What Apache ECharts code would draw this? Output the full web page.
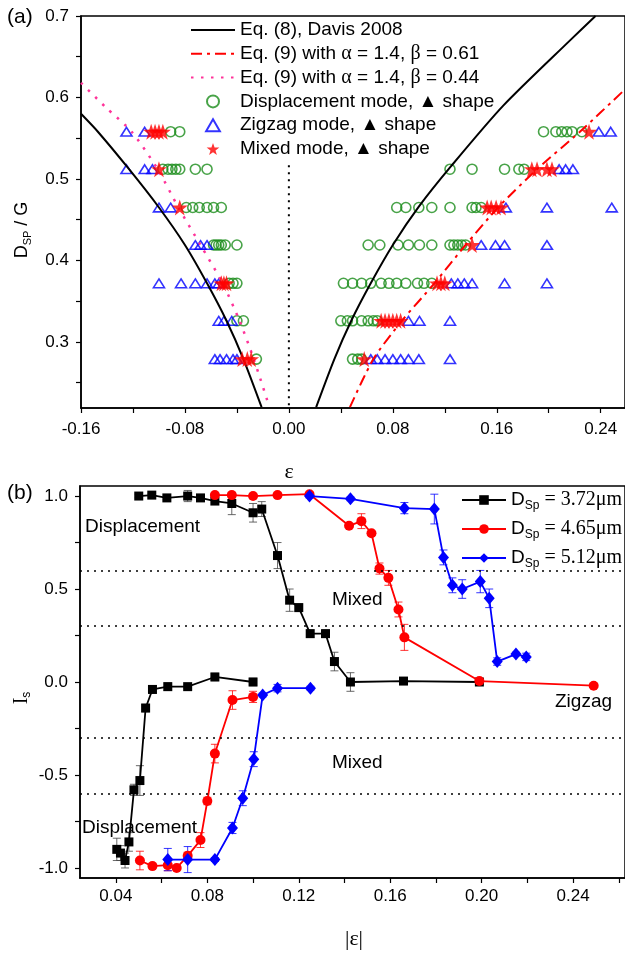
<!DOCTYPE html>
<html>
<head>
<meta charset="utf-8">
<script src="https://cdn.jsdelivr.net/npm/echarts@6/dist/echarts.min.js"></script>
<style>
  html, body { margin: 0; padding: 0; background: #fff; }
  #chart { width: 625px; height: 954px; }
</style>
</head>
<body>
<div id="chart"></div>
<script>
const SANS = 'Liberation Sans, Arial, sans-serif';
const SERIF = 'Liberation Serif, Times New Roman, serif';

// ---- panel (a): D_SP / G levels and strain of each observed run ----
const levelsD = [0.558, 0.512, 0.465, 0.419, 0.372, 0.326, 0.279];
const dispEps = [
  [-0.091, -0.084, 0.196, 0.2055, 0.210, 0.214, 0.218, 0.2255],
  [-0.097, -0.093, -0.090, -0.087, -0.084, -0.072, -0.063, 0.124, 0.141, 0.166, 0.177, 0.181],
  [-0.079, -0.074, -0.069, -0.063, -0.058, -0.052, 0.083, 0.090, 0.100, 0.110, 0.124, 0.141, 0.144, 0.148],
  [-0.058, -0.056, -0.054, -0.052, -0.049, -0.040, 0.061, 0.070, 0.084, 0.092, 0.1005, 0.110, 0.124, 0.127, 0.130, 0.133, 0.136],
  [-0.046, -0.043, -0.040, 0.042, 0.049, 0.056, 0.063, 0.071, 0.077, 0.083, 0.090, 0.099, 0.104, 0.110],
  [-0.040, -0.035, 0.040, 0.045, 0.049, 0.056, 0.061, 0.065, 0.068],
  [-0.025, 0.049, 0.053, 0.056]
];
const zigEps = [
  [-0.125, -0.111, 0.2385, 0.2477],
  [-0.125, -0.111, -0.105, 0.208, 0.213, 0.2186],
  [-0.100, -0.091, 0.167, 0.1986, 0.2485],
  [-0.072, -0.068, -0.063, 0.148, 0.159, 0.166, 0.1986],
  [-0.100, -0.083, -0.072, -0.063, -0.057, -0.054, 0.125, 0.130, 0.135, 0.141, 0.166, 0.1986],
  [-0.054, -0.050, -0.044, 0.092, 0.1005, 0.124],
  [-0.057, -0.053, -0.048, -0.043, -0.040, 0.063, 0.068, 0.074, 0.080, 0.086, 0.092, 0.100, 0.124]
];
const mixedEps = [
  [-0.106, -0.103, -0.100, -0.097, 0.231],
  [-0.100, 0.187, 0.191, 0.1986, 0.2025],
  [-0.084, 0.1526, 0.1557, 0.1595, 0.1633],
  [0.141],
  [-0.052, -0.050, -0.048, 0.114, 0.117, 0.120],
  [0.071, 0.074, 0.077, 0.080, 0.083, 0.086],
  [-0.036, -0.032, -0.029, 0.058]
];

// curves
const davisLeftEps = [-0.16, -0.147, -0.123, -0.100, -0.080, -0.063, -0.048, -0.035, -0.021];
const davisLeftD = [0.58, 0.558, 0.512, 0.465, 0.419, 0.372, 0.326, 0.279, 0.22];
const davisRightEps = [0.021, 0.035, 0.048, 0.063, 0.080, 0.100, 0.125, 0.165, 0.217, 0.236];
const davisRightD = [0.22, 0.279, 0.326, 0.372, 0.419, 0.466, 0.516, 0.590, 0.671, 0.70];
const eq9aEps = [0.047, 0.065, 0.087, 0.112, 0.136, 0.161, 0.191, 0.224, 0.2587];
const eq9aD = [0.22, 0.279, 0.326, 0.372, 0.419, 0.465, 0.512, 0.558, 0.61];
const eq9bEps = [-0.16, -0.141, -0.121, -0.101, -0.085, -0.068, -0.051, -0.038, -0.027, -0.015];
const eq9bD = [0.618, 0.588, 0.558, 0.512, 0.465, 0.419, 0.372, 0.326, 0.279, 0.22];
const zeroLineEps = [0, 0];
const zeroLineD = [0.517, 0.219];

const topXTicks = [-0.16, -0.12, -0.08, -0.04, 0, 0.04, 0.08, 0.12, 0.16, 0.20, 0.24];
const topXLabels = [-0.16, -0.08, 0, 0.08, 0.16, 0.24];
const topYTicks = [0.25, 0.3, 0.35, 0.4, 0.45, 0.5, 0.55, 0.6, 0.65, 0.7];
const topYLabels = [0.3, 0.4, 0.5, 0.6, 0.7];

// ---- panel (b): order parameter I_s vs |strain| ----
const dspLabels = ['3.72', '4.65', '5.12'];

const blackUpX = [0.050, 0.0557, 0.0623, 0.0714, 0.077, 0.0833, 0.0907, 0.100, 0.1038, 0.1107, 0.116, 0.120, 0.125, 0.1317, 0.1356, 0.1426, 0.1658, 0.199];
const blackUpY = [1.00, 1.005, 0.99, 1.00, 0.99, 0.973, 0.96, 0.91, 0.93, 0.68, 0.44, 0.40, 0.26, 0.26, 0.11, 0.00, 0.005, 0.00];
const blackUpErr = [0.01, 0.01, 0.01, 0.03, 0.01, 0.01, 0.06, 0.05, 0.04, 0.07, 0.06, 0.02, 0.02, 0.02, 0.05, 0.05, 0.01, 0.01];
const blackLowX = [0.0404, 0.042, 0.044, 0.0457, 0.0479, 0.0505, 0.053, 0.056, 0.0627, 0.0714, 0.0833, 0.100];
const blackLowY = [-0.90, -0.92, -0.96, -0.86, -0.58, -0.53, -0.14, -0.04, -0.025, -0.025, 0.027, 0.00];
const blackLowErr = [0.06, 0.04, 0.04, 0.05, 0.03, 0.08, 0.02, 0.02, 0.02, 0.01, 0.02, 0.02];

const redUpX = [0.0833, 0.0907, 0.100, 0.1107, 0.1247, 0.142, 0.1474, 0.1518, 0.1553, 0.1592, 0.1636, 0.1662, 0.199, 0.249];
const redUpY = [1.005, 1.005, 1.00, 1.005, 1.01, 0.84, 0.865, 0.80, 0.61, 0.56, 0.39, 0.24, 0.005, -0.02];
const redUpErr = [0.01, 0.01, 0.01, 0.01, 0.01, 0.01, 0.04, 0.01, 0.03, 0.04, 0.04, 0.07, 0.01, 0.01];
const redLowX = [0.0505, 0.056, 0.0627, 0.0666, 0.0714, 0.077, 0.080, 0.0833, 0.091, 0.100];
const redLowY = [-0.96, -0.99, -0.985, -1.0, -0.935, -0.85, -0.64, -0.385, -0.097, -0.08];
const redLowErr = [0.05, 0.01, 0.03, 0.01, 0.02, 0.04, 0.02, 0.05, 0.05, 0.03];

const blueUpX = [0.1247, 0.1426, 0.1662, 0.1793, 0.1833, 0.1872, 0.1915, 0.1994, 0.2033, 0.2068, 0.215, 0.2195];
const blueUpY = [1.00, 0.985, 0.935, 0.93, 0.67, 0.52, 0.50, 0.54, 0.45, 0.11, 0.15, 0.135];
const blueUpErr = [0.01, 0.01, 0.03, 0.08, 0.04, 0.04, 0.05, 0.06, 0.05, 0.02, 0.01, 0.02];
const blueLowX = [0.0627, 0.0714, 0.0833, 0.091, 0.0955, 0.1003, 0.1042, 0.1107, 0.1251];
const blueLowY = [-0.955, -0.955, -0.955, -0.785, -0.625, -0.415, -0.07, -0.033, -0.033];
const blueLowErr = [0.06, 0.07, 0.01, 0.03, 0.04, 0.04, 0.01, 0.02, 0.01];

const guideLevels = [0.6, 0.3, -0.3, -0.6];

const botXTicks = [0.04, 0.06, 0.08, 0.10, 0.12, 0.14, 0.16, 0.18, 0.20, 0.22, 0.24, 0.26];
const botXLabels = [0.04, 0.08, 0.12, 0.16, 0.20, 0.24];
const botYTicks = [-1, -0.75, -0.5, -0.25, 0, 0.25, 0.5, 0.75, 1];
const botYLabels = [-1, -0.5, 0, 0.5, 1];

// ---------------------------------------------------------------
const STAR = 'path://M50,0 L61.8,34.5 L98,34.5 L68.8,56 L79.4,90.5 L50,69.5 L20.6,90.5 L31.2,56 L2,34.5 L38.2,34.5 Z';
const TRI = 'path://M50,0 L100,87 L0,87 Z';
const GREEN = '#1a8c1a';
const BLUE = '#0000ff';
const RED = '#ff0000';
const PINK = '#ff3399';

const pairs = (xs, ys) => xs.map((x, i) => [x, ys[i]]);
const rowsToPoints = (rows) => {
  const pts = [];
  rows.forEach((row, r) => row.forEach((e) => pts.push([e, levelsD[r]])));
  return pts;
};

const nameDavis = 'Eq. (8), Davis 2008';
const nameEq9a = 'Eq. (9) with α = 1.4, β = 0.61';
const nameEq9b = 'Eq. (9) with α = 1.4, β = 0.44';
const nameDisp = 'Displacement mode, ▲ shape';
const nameZig = 'Zigzag mode, ▲ shape';
const nameMix = 'Mixed mode, ▲ shape';
const dspNames = dspLabels.map((v) => 'D_Sp = ' + v + 'μm');

function axisCommon(ticks, labels, digits, margin) {
  return {
    axisLine: { show: true, onZero: false, lineStyle: { color: '#000', width: 1.5 } },
    axisTick: { show: true, inside: false, length: 5, customValues: ticks, lineStyle: { color: '#000', width: 1.2 } },
    axisLabel: {
      customValues: labels, margin: margin, color: '#000', fontFamily: SANS, fontSize: 17,
      formatter: (v) => Number(v).toFixed(digits)
    },
    splitLine: { show: false }
  };
}

function errorSeries(xs, ys, es, color) {
  return {
    type: 'custom', xAxisIndex: 1, yAxisIndex: 1, z: 1, silent: true,
    data: xs.map((x, i) => [x, ys[i], es[i]]),
    renderItem: (params, api) => {
      const x = api.value(0), y = api.value(1), e = api.value(2);
      const hi = api.coord([x, y + e]);
      const lo = api.coord([x, y - e]);
      const w = 4;
      const st = { stroke: color, lineWidth: 1, opacity: 0.8 };
      return {
        type: 'group', children: [
          { type: 'line', shape: { x1: hi[0], y1: hi[1], x2: lo[0], y2: lo[1] }, style: st },
          { type: 'line', shape: { x1: hi[0] - w, y1: hi[1], x2: hi[0] + w, y2: hi[1] }, style: st },
          { type: 'line', shape: { x1: lo[0] - w, y1: lo[1], x2: lo[0] + w, y2: lo[1] }, style: st }
        ]
      };
    }
  };
}

function dataLine(name, xs, ys, color, symbol, size, extra) {
  return Object.assign({
    name: name, type: 'line', xAxisIndex: 1, yAxisIndex: 1, z: 3,
    data: pairs(xs, ys), symbol: symbol, symbolSize: size, showSymbol: true,
    lineStyle: { color: color, width: 1.8 }, itemStyle: { color: color }
  }, extra || {});
}

function curve(name, xs, ys, color, width, dash) {
  return {
    name: name, type: 'line', xAxisIndex: 0, yAxisIndex: 0, data: pairs(xs, ys),
    symbol: 'none', smooth: 0.25,
    lineStyle: { color: color, width: width, type: dash }, itemStyle: { color: color }
  };
}

const hiddenDot = { opacity: 0 };

const chart = echarts.init(document.getElementById('chart'), null, { renderer: 'canvas' });

const option = {
  animation: false,
  backgroundColor: '#fff',
  grid: [
    { left: 81, top: 16, width: 546, height: 392, show: true, borderColor: '#000', borderWidth: 1.5, backgroundColor: 'transparent' },
    { left: 80, top: 486, width: 546, height: 392, show: true, borderColor: '#000', borderWidth: 1.5, backgroundColor: 'transparent' }
  ],
  xAxis: [
    Object.assign({ type: 'value', gridIndex: 0, min: -0.16, max: 0.2587 }, axisCommon(topXTicks, topXLabels, 2, 13)),
    Object.assign({ type: 'value', gridIndex: 1, min: 0.0243, max: 0.2627 }, axisCommon(botXTicks, botXLabels, 2, 10))
  ],
  yAxis: [
    Object.assign({ type: 'value', gridIndex: 0, min: 0.219, max: 0.7 }, axisCommon(topYTicks, topYLabels, 1, 12)),
    Object.assign({ type: 'value', gridIndex: 1, min: -1.054, max: 1.054 }, axisCommon(botYTicks, botYLabels, 1, 12))
  ],
  legend: [
    {
      data: [
        { name: nameDavis, itemStyle: hiddenDot },
        { name: nameEq9a, itemStyle: hiddenDot },
        { name: nameEq9b, itemStyle: hiddenDot },
        nameDisp, nameZig, nameMix
      ],
      orient: 'vertical', left: 190, top: 20, padding: 0,
      itemWidth: 44, itemHeight: 12, itemGap: 3.8,
      selectedMode: false,
      textStyle: {
        fontFamily: SANS, fontSize: 19, lineHeight: 20, color: '#000',
        rich: { g: { fontFamily: SERIF, fontSize: 20, lineHeight: 20, color: '#000' } }
      },
      formatter: (n) => n.replace(/([αβ])/g, '{g|$1}')
    },
    {
      data: dspNames,
      orient: 'vertical', left: 461, top: 490, padding: 0,
      itemWidth: 44, itemHeight: 12, itemGap: 7,
      selectedMode: false,
      textStyle: {
        fontFamily: SANS, fontSize: 19, color: '#000',
        rich: {
          d: { fontFamily: SANS, fontSize: 19, lineHeight: 24, verticalAlign: 'middle', color: '#000' },
          s: { fontFamily: SANS, fontSize: 12, lineHeight: 10, verticalAlign: 'bottom', color: '#000' },
          v: { fontFamily: SERIF, fontSize: 20, lineHeight: 24, verticalAlign: 'middle', color: '#000' }
        }
      },
      formatter: (n) => {
        const v = n.split('= ')[1];
        return '{d|D}{s|Sp}{v| = ' + v + '}';
      }
    }
  ],
  series: [
    // ---- panel (a) ----
    curve(nameDavis, davisLeftEps, davisLeftD, '#000', 2, 'solid'),
    curve(nameDavis, davisRightEps, davisRightD, '#000', 2, 'solid'),
    curve(nameEq9a, eq9aEps, eq9aD, RED, 2, [11, 5, 3, 5]),
    curve(nameEq9b, eq9bEps, eq9bD, PINK, 2.5, [2.5, 7.5]),
    {
      type: 'line', xAxisIndex: 0, yAxisIndex: 0, data: pairs(zeroLineEps, zeroLineD), symbol: 'none', silent: true,
      lineStyle: { color: '#000', width: 2, type: [2, 5] }
    },
    {
      name: nameDisp, type: 'scatter', xAxisIndex: 0, yAxisIndex: 0, data: rowsToPoints(dispEps),
      symbol: 'circle', symbolSize: 10,
      itemStyle: { color: 'rgba(0,0,0,0)', borderColor: GREEN, borderWidth: 1.6 }
    },
    {
      name: nameZig, type: 'scatter', xAxisIndex: 0, yAxisIndex: 0, data: rowsToPoints(zigEps),
      symbol: TRI, symbolSize: [11, 10], symbolKeepAspect: true,
      itemStyle: { color: 'rgba(0,0,0,0)', borderColor: BLUE, borderWidth: 1.6 }
    },
    {
      name: nameMix, type: 'scatter', xAxisIndex: 0, yAxisIndex: 0, data: rowsToPoints(mixedEps),
      symbol: STAR, symbolSize: 16, z: 4,
      itemStyle: { color: RED }
    },

    // ---- panel (b) ----
    errorSeries(blackUpX, blackUpY, blackUpErr, '#444'),
    errorSeries(blackLowX, blackLowY, blackLowErr, '#444'),
    dataLine(dspNames[0], blackUpX, blackUpY, '#000', 'rect', 9, {
      markLine: {
        silent: true, symbol: 'none', label: { show: false },
        lineStyle: { color: '#000', width: 1.5, type: [2, 5] },
        data: guideLevels.map((v) => ({ yAxis: v }))
      }
    }),
    dataLine(dspNames[0], blackLowX, blackLowY, '#000', 'rect', 9),
    errorSeries(redUpX, redUpY, redUpErr, RED),
    errorSeries(redLowX, redLowY, redLowErr, RED),
    dataLine(dspNames[1], redUpX, redUpY, RED, 'circle', 10, { z: 4 }),
    dataLine(dspNames[1], redLowX, redLowY, RED, 'circle', 10, { z: 4 }),
    errorSeries(blueUpX, blueUpY, blueUpErr, BLUE),
    errorSeries(blueLowX, blueLowY, blueLowErr, BLUE),
    dataLine(dspNames[2], blueUpX, blueUpY, BLUE, 'diamond', [11, 13], { z: 5 }),
    dataLine(dspNames[2], blueLowX, blueLowY, BLUE, 'diamond', [11, 13], { z: 5 })
  ],
  graphic: [
    { type: 'text', x: 7, y: 17, style: { text: '(a)', fontFamily: SANS, fontSize: 21, fill: '#000', align: 'left', verticalAlign: 'middle' } },
    { type: 'text', x: 7, y: 493, style: { text: '(b)', fontFamily: SANS, fontSize: 21, fill: '#000', align: 'left', verticalAlign: 'middle' } },
    {
      type: 'text', x: 22, y: 230, rotation: Math.PI / 2,
      style: {
        text: '{d|D}{s|SP}{d| / G}', align: 'center', verticalAlign: 'middle',
        rich: {
          d: { fontFamily: SANS, fontSize: 18, lineHeight: 22, verticalAlign: 'middle', fill: '#000' },
          s: { fontFamily: SANS, fontSize: 11, lineHeight: 11, verticalAlign: 'bottom', fill: '#000' }
        }
      }
    },
    {
      type: 'text', x: 22, y: 698, rotation: Math.PI / 2,
      style: {
        text: '{d|I}{s|s}', align: 'center', verticalAlign: 'middle',
        rich: {
          d: { fontFamily: SERIF, fontSize: 20, lineHeight: 22, verticalAlign: 'middle', fill: '#000' },
          s: { fontFamily: SANS, fontSize: 12, lineHeight: 11, verticalAlign: 'bottom', fill: '#000' }
        }
      }
    },
    { type: 'text', x: 289, y: 472, style: { text: 'ε', fontFamily: SERIF, fontSize: 22, fill: '#000', align: 'center', verticalAlign: 'middle' } },
    { type: 'text', x: 354, y: 939, style: { text: '|ε|', fontFamily: SERIF, fontSize: 22, fill: '#000', align: 'center', verticalAlign: 'middle' } },
    { type: 'text', x: 85, y: 527, style: { text: 'Displacement', fontFamily: SANS, fontSize: 19, fill: '#000', align: 'left', verticalAlign: 'middle' } },
    { type: 'text', x: 332, y: 600, style: { text: 'Mixed', fontFamily: SANS, fontSize: 19, fill: '#000', align: 'left', verticalAlign: 'middle' } },
    { type: 'text', x: 332, y: 763, style: { text: 'Mixed', fontFamily: SANS, fontSize: 19, fill: '#000', align: 'left', verticalAlign: 'middle' } },
    { type: 'text', x: 82, y: 828, style: { text: 'Displacement', fontFamily: SANS, fontSize: 19, fill: '#000', align: 'left', verticalAlign: 'middle' } },
    { type: 'text', x: 555, y: 702, style: { text: 'Zigzag', fontFamily: SANS, fontSize: 19, fill: '#000', align: 'left', verticalAlign: 'middle' } }
  ]
};

chart.setOption(option);
</script>
</body>
</html>
